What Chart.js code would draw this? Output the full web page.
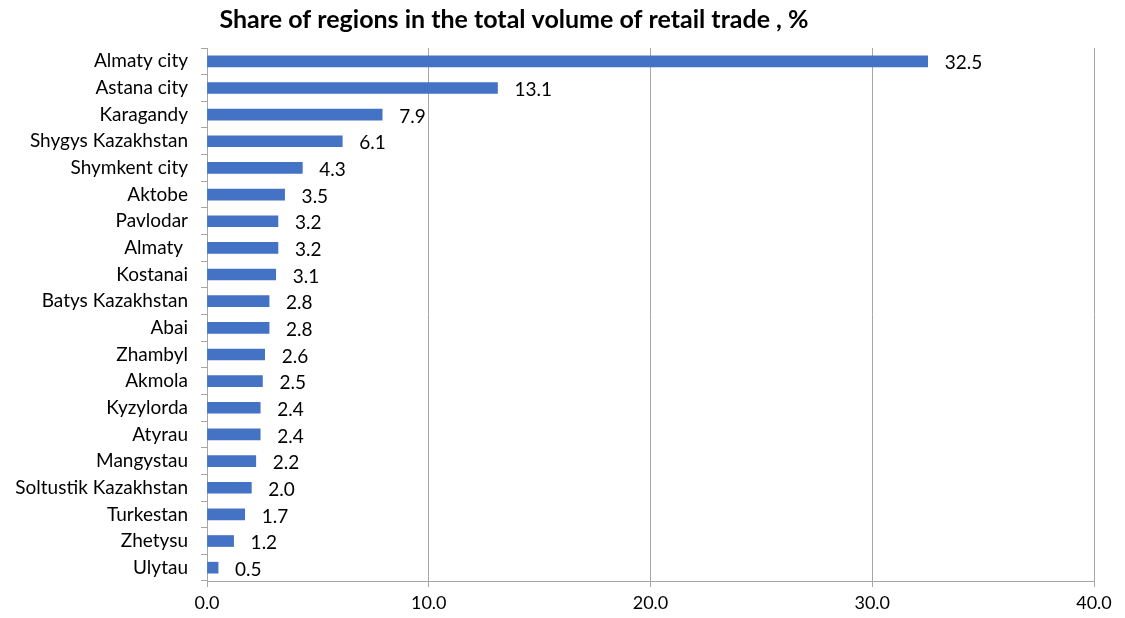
<!DOCTYPE html>
<html>
<head>
<meta charset="utf-8">
<script src="https://cdn.jsdelivr.net/npm/chart.js@4/dist/chart.umd.min.js"></script>
<style>
  html, body { margin: 0; padding: 0; background: #fff; }
  #wrap { width: 1125px; height: 618px; position: relative; }
</style>
</head>
<body>
<div id="wrap"><canvas id="chart"></canvas></div>
<script>
const titleText = "Share of regions in the total volume of retail trade , %";

const regions = [
    "Almaty city", "Astana city", "Karagandy", "Shygys Kazakhstan", "Shymkent city",
    "Aktobe", "Pavlodar", "Almaty ", "Kostanai", "Batys Kazakhstan",
    "Abai", "Zhambyl", "Akmola", "Kyzylorda", "Atyrau",
    "Mangystau", "Soltustik Kazakhstan", "Turkestan", "Zhetysu", "Ulytau"
];
const shares = [
    32.5, 13.1, 7.9, 6.1, 4.3,
    3.5, 3.2, 3.2, 3.1, 2.8,
    2.8, 2.6, 2.5, 2.4, 2.4,
    2.2, 2.0, 1.7, 1.2, 0.5
];
const xTicks = [0, 10, 20, 30, 40];

const FONT = "Lato, 'Open Sans', sans-serif";
const GRID = "#a6a6a6";

// value labels to the right of each bar
const valueLabels = {
    id: "valueLabels",
    afterDatasetsDraw(chart) {
        const { ctx } = chart;
        const meta = chart.getDatasetMeta(0);
        ctx.save();
        ctx.font = "19px " + FONT;
        ctx.fillStyle = "#000";
        ctx.textAlign = "left";
        ctx.textBaseline = "middle";
        meta.data.forEach((bar, i) => {
            ctx.fillText(shares[i].toFixed(1), bar.x + 17, bar.y + 2);
        });
        ctx.restore();
    }
};

const titlePlugin = {
    id: "titlePlugin",
    afterDraw(chart) {
        const { ctx } = chart;
        ctx.save();
        ctx.font = "bold 25px " + FONT;
        ctx.fillStyle = "#000";
        ctx.textAlign = "center";
        ctx.textBaseline = "middle";
        ctx.fillText(titleText, 514, 20);
        ctx.restore();
    }
};

new Chart(document.getElementById("chart"), {
    type: "bar",
    data: {
        labels: regions,
        datasets: [{
            data: shares,
            backgroundColor: "#4472c4",
            barThickness: 11,
            borderWidth: 0
        }]
    },
    options: {
        indexAxis: "y",
        responsive: true,
        maintainAspectRatio: false,
        animation: false,
        devicePixelRatio: 1,
        layout: { padding: { top: 48, right: 31, left: 0, bottom: 0 } },
        plugins: {
            legend: { display: false },
            title: { display: false },
            tooltip: { enabled: false }
        },
        scales: {
            x: {
                min: 0,
                max: 40,
                afterBuildTicks: (axis) => { axis.ticks = xTicks.map(v => ({ value: v })); },
                afterFit: (axis) => { axis.height = 37; },
                grid: { color: GRID, lineWidth: 1, tickLength: 6 },
                border: { color: GRID },
                ticks: {
                    color: "#000",
                    font: { family: FONT, size: 18 },
                    padding: 5,
                    maxRotation: 0,
                    callback: (v) => Number(v).toFixed(1)
                }
            },
            y: {
                afterFit: (axis) => { axis.width = 207; },
                grid: { color: GRID, offset: true, drawOnChartArea: false, tickLength: 6 },
                border: { color: GRID },
                ticks: {
                    color: "#000",
                    font: { family: FONT, size: 19 },
                    padding: 13,
                    autoSkip: false
                }
            }
        }
    },
    plugins: [valueLabels, titlePlugin]
});
</script>
</body>
</html>
